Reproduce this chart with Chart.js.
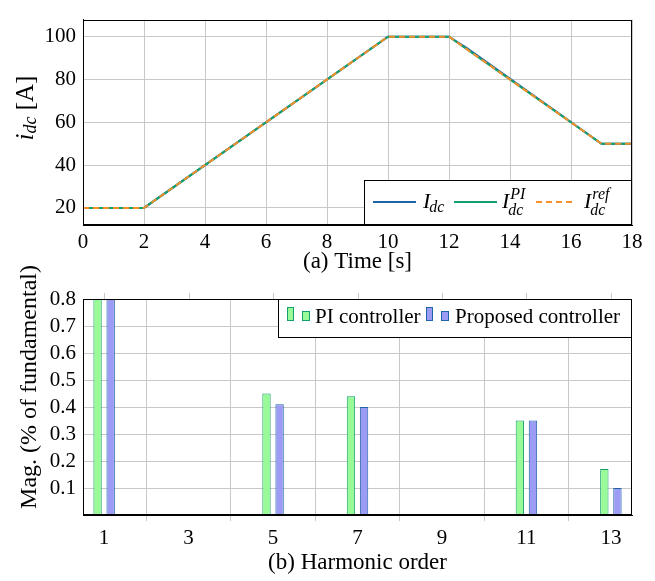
<!DOCTYPE html>
<html>
<head>
<meta charset="utf-8">
<script src="https://cdn.jsdelivr.net/npm/chart.js@4.4.1/dist/chart.umd.min.js"></script>
<style>
  html, body { margin: 0; padding: 0; background: #fff; }
  #wrap { position: relative; width: 655px; height: 581px; overflow: hidden; }
  #top-box { position: absolute; left: 0; top: 0; }
  #bot-box { position: absolute; left: 0; top: 250px; }
</style>
</head>
<body>
<div id="wrap">
  <div id="top-box"><canvas id="idc-chart" width="655" height="280"></canvas></div>
  <div id="bot-box"><canvas id="harm-chart" width="655" height="331"></canvas></div>
</div>
<script>
// ---- (a) dc current tracking ----
const timeRef = [0, 2, 10, 12, 17, 18];
const idcRef = [20, 20, 100, 100, 50, 50];
const timePI = [0, 2, 10, 12, 17, 18];
const idcPI = [20, 20, 100, 100, 50, 50];
const timeIdc = [0, 2, 10, 12, 12.6, 17, 18];
const idcMeas = [20, 20, 100, 100, 94.6, 50, 50];
const timeTicks = [0, 2, 4, 6, 8, 10, 12, 14, 16, 18];
const idcTicks = [20, 40, 60, 80, 100];

// ---- (b) harmonic spectrum ----
const harmonics = [1, 5, 7, 11, 13];
const magPI = [0.8, 0.45, 0.44, 0.35, 0.17];
const magProposed = [0.8, 0.41, 0.40, 0.35, 0.10];
const harmTicks = [1, 3, 5, 7, 9, 11, 13];
const magTicks = [0.1, 0.2, 0.3, 0.4, 0.5, 0.6, 0.7, 0.8];

const SERIF = "Liberation Serif, DejaVu Serif, serif";
const GRID = '#c8c8c8';
const BLUE = '#1f64a8';
const GREEN = '#14a06e';
const ORANGE = '#f5902a';

Chart.defaults.font.family = SERIF;
Chart.defaults.font.size = 21;
Chart.defaults.color = '#000';

const toPts = (xs, ys) => xs.map((x, i) => ({ x, y: ys[i] }));
const fixTicks = vals => scale => { scale.ticks = vals.map(v => ({ value: v })); };

function fontOf(r) {
  return `${r.italic ? 'italic ' : ''}${r.size}px ${SERIF}`;
}

// draw a row of text runs (for sub/superscripts), x is the centre when centred
function drawRuns(ctx, runs, x, y, centred) {
  let total = 0;
  runs.forEach(r => { ctx.font = fontOf(r); r.w = ctx.measureText(r.text).width; total += r.w; });
  let cx = centred ? x - total / 2 : x;
  runs.forEach(r => {
    ctx.font = fontOf(r);
    ctx.fillText(r.text, cx, y + (r.dy || 0));
    cx += r.w;
  });
}

// italic base symbol with stacked super/subscript
function mathSym(ctx, x, y, base, sup, sub) {
  ctx.font = `italic 22px ${SERIF}`;
  ctx.fillText(base, x, y);
  const w = ctx.measureText(base).width;
  ctx.font = `italic 16px ${SERIF}`;
  if (sup) ctx.fillText(sup, x + w + 1, y - 9);
  if (sub) ctx.fillText(sub, x + w - 1, y + (sup ? 7 : 4));
}

function frame(ctx, a) {
  ctx.save();
  ctx.strokeStyle = '#000';
  ctx.lineWidth = 1;
  ctx.strokeRect(Math.round(a.left) + 0.5, Math.round(a.top) + 0.5,
    Math.round(a.right - a.left) - 1, Math.round(a.bottom - a.top) - 1);
  ctx.restore();
}

const idcDecor = {
  id: 'idcDecor',
  afterDraw(chart) {
    const ctx = chart.ctx;
    const a = chart.chartArea;
    frame(ctx, a);
    ctx.save();
    ctx.fillStyle = '#000';
    ctx.textBaseline = 'middle';
    // x title
    drawRuns(ctx, [{ text: '(a) Time [s]', size: 23 }], (a.left + a.right) / 2, 262, true);
    // y title
    ctx.translate(26, 108);
    ctx.rotate(-Math.PI / 2);
    drawRuns(ctx, [
      { text: 'i', size: 25, italic: true },
      { text: 'dc', size: 18, italic: true, dy: 5 },
      { text: ' [A]', size: 25 }
    ], 0, 0, true);
    ctx.restore();

    // legend
    ctx.save();
    const bx = 364, by = 180;
    ctx.fillStyle = '#fff';
    ctx.fillRect(bx, by, a.right - bx, a.bottom - by);
    ctx.strokeStyle = '#000';
    ctx.lineWidth = 1;
    ctx.strokeRect(bx + 0.5, by + 0.5, a.right - bx - 1, a.bottom - by - 1);
    ctx.lineWidth = 2;
    const ly = 202;
    ctx.strokeStyle = BLUE;
    ctx.beginPath(); ctx.moveTo(373, ly); ctx.lineTo(416, ly); ctx.stroke();
    ctx.strokeStyle = GREEN;
    ctx.beginPath(); ctx.moveTo(454, ly); ctx.lineTo(497, ly); ctx.stroke();
    ctx.strokeStyle = ORANGE;
    ctx.setLineDash([6, 4]);
    ctx.beginPath(); ctx.moveTo(536, ly); ctx.lineTo(576, ly); ctx.stroke();
    ctx.setLineDash([]);
    ctx.fillStyle = '#000';
    ctx.textBaseline = 'alphabetic';
    mathSym(ctx, 423, 208, 'I', null, 'dc');
    mathSym(ctx, 502, 208, 'I', 'PI', 'dc');
    mathSym(ctx, 584, 208, 'I', 'ref', 'dc');
    ctx.restore();
  }
};

const harmDecor = {
  id: 'harmDecor',
  afterDraw(chart) {
    const ctx = chart.ctx;
    const a = chart.chartArea;
    const xs = chart.scales.x;
    ctx.save();
    // tick marks above the top edge
    ctx.strokeStyle = GRID;
    ctx.lineWidth = 1;
    harmTicks.forEach(v => {
      const px = Math.round(xs.getPixelForValue(v)) + 0.5;
      ctx.beginPath(); ctx.moveTo(px, a.top - 6); ctx.lineTo(px, a.top); ctx.stroke();
    });
    ctx.restore();
    frame(ctx, a);

    ctx.save();
    ctx.fillStyle = '#000';
    ctx.textBaseline = 'middle';
    drawRuns(ctx, [{ text: '(b) Harmonic order', size: 23 }], (a.left + a.right) / 2, 313, true);
    ctx.translate(30, 137);
    ctx.rotate(-Math.PI / 2);
    drawRuns(ctx, [{ text: 'Mag. (% of fundamental)', size: 24 }], 0, 0, true);
    ctx.restore();

    // legend
    ctx.save();
    const bx = 278, by = 49, bh = 39;
    ctx.fillStyle = '#fff';
    ctx.fillRect(bx, by, a.right - bx, bh);
    ctx.strokeStyle = '#000';
    ctx.lineWidth = 1;
    ctx.strokeRect(bx + 0.5, by + 0.5, a.right - bx - 1, bh - 1);
    const swatch = (x, fill, line) => {
      ctx.fillStyle = fill;
      ctx.strokeStyle = line;
      ctx.fillRect(x, by + 8, 6, 13); ctx.strokeRect(x + 0.5, by + 8.5, 6, 13);
      ctx.fillRect(x + 15, by + 12, 7, 9); ctx.strokeRect(x + 15.5, by + 12.5, 7, 9);
    };
    swatch(287, '#98fb98', GREEN);
    swatch(426, '#9c9cf5', BLUE);
    ctx.fillStyle = '#000';
    ctx.textBaseline = 'alphabetic';
    ctx.font = `21px ${SERIF}`;
    ctx.fillText('PI controller', 315, by + 24);
    ctx.fillText('Proposed controller', 455, by + 24);
    ctx.restore();
  }
};

const tickFont = { family: SERIF, size: 21 };

new Chart(document.getElementById('idc-chart'), {
  type: 'line',
  data: {
    datasets: [
      { data: toPts(timeIdc, idcMeas), borderColor: BLUE, borderWidth: 2, order: 3 },
      { data: toPts(timePI, idcPI), borderColor: GREEN, borderWidth: 2, order: 2 },
      { data: toPts(timeRef, idcRef), borderColor: ORANGE, borderWidth: 2, borderDash: [6, 4], order: 1 }
    ]
  },
  options: {
    responsive: false,
    animation: false,
    layout: { padding: { top: 10, right: 23, left: 0, bottom: 0 } },
    elements: { point: { radius: 0 }, line: { tension: 0 } },
    plugins: { legend: { display: false }, tooltip: { enabled: false } },
    scales: {
      x: {
        type: 'linear', min: 0, max: 18,
        afterBuildTicks: fixTicks(timeTicks),
        afterFit: s => { s.height = 55; },
        grid: { color: GRID, drawTicks: false },
        border: { color: '#000', width: 1 },
        ticks: { color: '#000', font: tickFont, padding: 5, maxRotation: 0 }
      },
      y: {
        min: 12, max: 108,
        afterBuildTicks: fixTicks(idcTicks),
        afterFit: s => { s.width = 83; },
        grid: { color: GRID, drawTicks: false },
        border: { color: '#000', width: 1 },
        ticks: { color: '#000', font: tickFont, padding: 7 }
      }
    }
  },
  plugins: [idcDecor]
});

new Chart(document.getElementById('harm-chart'), {
  type: 'bar',
  data: {
    datasets: [
      { label: 'PI controller', data: toPts(harmonics, magPI), backgroundColor: '#98fb98', borderColor: GREEN },
      { label: 'Proposed controller', data: toPts(harmonics, magProposed), backgroundColor: '#9c9cf5', borderColor: BLUE }
    ]
  },
  options: {
    responsive: false,
    animation: false,
    layout: { padding: { top: 49, right: 23, left: 0, bottom: 0 } },
    datasets: { bar: { borderWidth: 1, borderSkipped: false, categoryPercentage: 0.31, barPercentage: 0.64 } },
    plugins: { legend: { display: false }, tooltip: { enabled: false } },
    scales: {
      x: {
        type: 'linear', min: 0.5, max: 13.5, offset: false,
        afterBuildTicks: fixTicks(harmTicks),
        afterFit: s => { s.height = 66; },
        grid: { color: GRID, tickLength: 6 },
        border: { color: '#000', width: 1 },
        ticks: { color: '#000', font: tickFont, padding: 5, maxRotation: 0 }
      },
      y: {
        min: 0, max: 0.8,
        afterBuildTicks: fixTicks(magTicks),
        afterFit: s => { s.width = 83; },
        grid: { color: GRID, drawTicks: false },
        border: { color: '#000', width: 1 },
        ticks: { color: '#000', font: tickFont, padding: 7, callback: v => v.toFixed(1) }
      }
    }
  },
  plugins: [harmDecor]
});
</script>
</body>
</html>
